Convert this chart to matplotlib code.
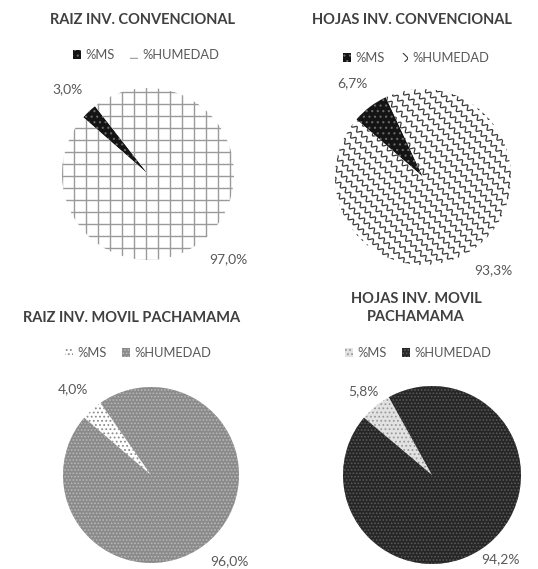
import matplotlib
matplotlib.use("Agg")
import matplotlib.pyplot as plt
import numpy as np
from matplotlib.patches import Patch

W, H = 538, 569
plt.rcParams['font.family'] = ['Lato', 'DejaVu Sans']
plt.rcParams['hatch.linewidth'] = 0.8

# ---- data ----
titles = ["RAIZ INV. CONVENCIONAL", "HOJAS INV. CONVENCIONAL",
          "RAIZ INV. MOVIL PACHAMAMA", "HOJAS INV. MOVIL\nPACHAMAMA"]
categories = ["%MS", "%HUMEDAD"]
ms_pct = [3.0, 6.7, 4.0, 5.8]
humedad_pct = [97.0, 93.3, 96.0, 94.2]

# ---- layout (pixels from top-left) ----
centers = [(148, 174), (423, 177), (151, 475), (432, 475)]
radii = [86, 88, 88, 89]
start_angles = [128, 115, 125, 119]
label_dist = [1.36, 1.33, 1.32, 1.22]
title_pos = [(143, 20), (412, 20), (132, 318), (416, 308)]
legend_pos = [(146, 55), (416, 58), (138, 353), (418, 353)]

# fill styles per pie: (MS style, HUMEDAD style)
styles = [
    (dict(face='#141414', hatch='...', hc='#6a6a6a', tex=None),
     dict(face='white', hatch='+', hc='#9a9a9a', tex='grid')),
    (dict(face='#141414', hatch='...', hc='#6a6a6a', tex=None),
     dict(face='white', hatch='xx', hc='#3a3a3a', tex='wave')),
    (dict(face='white', hatch='....', hc='#8c8c8c', tex=None),
     dict(face='#8a8a8a', hatch='.....', hc='#b8b8b8', tex=None)),
    (dict(face='#e2e2e2', hatch='....', hc='#9a9a9a', tex=None),
     dict(face='#262626', hatch='.....', hc='#5a5a5a', tex=None)),
]

fig = plt.figure(figsize=(W / 100, H / 100), dpi=100)
ax = fig.add_axes([0, 0, 1, 1])


def fmt_pct(p):
    return f"{p:.1f}%".replace('.', ',')


def add_texture(wedge, kind, cx, cy, r, color):
    if kind == 'grid':
        step = 12
        for v in np.arange(cx - r - step, cx + r + step, step):
            ln, = ax.plot([v, v], [cy - r, cy + r], color=color, lw=1.0)
            ln.set_clip_path(wedge)
        for v in np.arange(cy - r - step, cy + r + step, step):
            ln, = ax.plot([cx - r, cx + r], [v, v], color=color, lw=1.0)
            ln.set_clip_path(wedge)
    elif kind == 'wave':
        u = np.array([1.0, -1.0]) / np.sqrt(2)
        n = np.array([1.0, 1.0]) / np.sqrt(2)
        t = np.linspace(-1.5 * r, 1.5 * r, 600)
        for k in np.arange(-1.5 * r, 1.5 * r, 8.5):
            off = k + 2.0 * np.sin(2 * np.pi * t / 7.0)
            xs = cx + t * u[0] + off * n[0]
            ys = cy + t * u[1] + off * n[1]
            ln, = ax.plot(xs, ys, color=color, lw=0.9)
            ln.set_clip_path(wedge)


for i in range(4):
    cx, cy_img = centers[i]
    cy = H - cy_img
    r = radii[i]
    ms_st, hu_st = styles[i]
    wedges, _, autotexts = ax.pie(
        [ms_pct[i], humedad_pct[i]], center=(cx, cy), radius=r,
        startangle=start_angles[i], counterclock=True,
        autopct=fmt_pct, pctdistance=label_dist[i], frame=True,
        wedgeprops=dict(linewidth=0),
        textprops=dict(color='#595959', fontsize=10))
    for w, st in zip(wedges, (ms_st, hu_st)):
        w.set_facecolor(st['face'])
        w.set_edgecolor(st['hc'])
        w.set_linewidth(0)
        if st['tex'] is None:
            w.set_hatch(st['hatch'])
        else:
            add_texture(w, st['tex'], cx, cy, r, st['hc'])

    tx, ty = title_pos[i]
    ax.text(tx, H - ty, titles[i], ha='center', va='center',
            fontsize=10.5, fontweight='bold', color='#404040',
            linespacing=1.45)

    handles = [Patch(facecolor=st['face'], edgecolor=st['hc'], hatch=st['hatch'],
                     linewidth=0) for st in (ms_st, hu_st)]
    lx, ly = legend_pos[i]
    fig.legend(handles, categories, loc='center',
               bbox_to_anchor=(lx / W, 1 - ly / H), ncol=2, frameon=False,
               fontsize=9.3, handlelength=0.65, handleheight=0.65,
               handletextpad=0.3, columnspacing=1.2, labelcolor='#595959')

ax.set_xlim(0, W)
ax.set_ylim(0, H)
ax.set_aspect('auto')
ax.axis('off')

fig.savefig('out.png', dpi=100, facecolor='white')
